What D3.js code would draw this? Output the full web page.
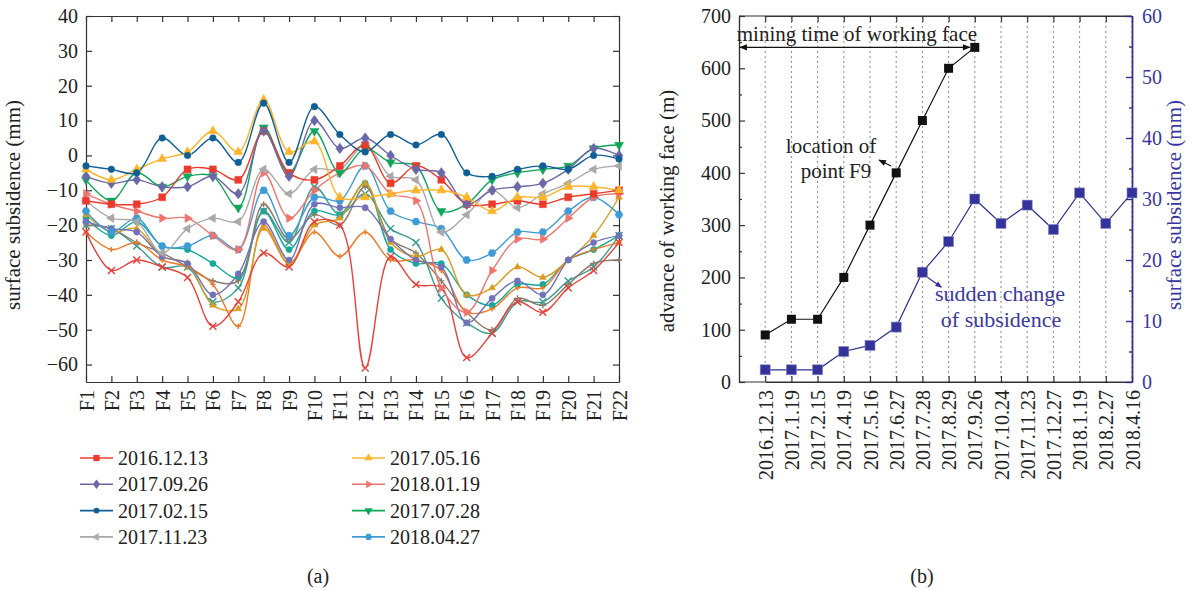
<!DOCTYPE html>
<html><head><meta charset="utf-8">
<script src="https://cdn.jsdelivr.net/npm/d3@7"></script>
<style>
body{margin:0;background:#fff}
text{font-family:"Liberation Serif","Times New Roman",serif;fill:#222}
</style>
</head><body>
<svg id="c" width="1192" height="590"></svg>
<script>
// ---------- data: chart (a) ----------
const fPoints = ["F1","F2","F3","F4","F5","F6","F7","F8","F9","F10","F11","F12","F13","F14","F15","F16","F17","F18","F19","F20","F21","F22"];
const yTicksA = [40,30,20,10,0,-10,-20,-30,-40,-50,-60];

const s20161213 = [-13,-14,-14,-12,-4,-4,-7,7,-5,-7,-3,3,-8,-3,-7,-14,-14,-13,-14,-12,-11,-10];
const s20170926 = [-6,-8,-7,-9,-9,-6,-11,7,-6,10,2,5,0,-4,-5,-14,-10,-9,-8,-4,2,0];
const s20170215 = [-3,-4,-5,5,0,5,-2,15,-2,14,6,1,6,3,6,-5,-6,-4,-3,-4,0,-1];
const s20171123 = [-13,-18,-19,-28,-21,-18,-19,-4,-11,-4,-4,3,-6,-7,-22,-17,-10,-15,-11,-8,-4,-3];
const s20170516 = [-4,-7,-4,-1,1,7,1,16,1,4,-12,-12,-11,-10,-10,-12,-16,-12,-12,-9,-9,-10];
const s20180119 = [-11,-14,-16,-18,-18,-23,-27,-5,-18,-10,-5,-3,-11,-13,-38,-45,-33,-24,-24,-18,-12,-11];
const s20170728 = [-7,-13,-5,-9,-6,-6,-15,8,-5,7,-5,2,-2,-3,-16,-14,-7,-5,-4,-3,2,3];
const s20180427 = [-16,-22,-18,-26,-26,-23,-27,-10,-23,-12,-13,-3,-16,-19,-21,-30,-28,-22,-22,-16,-12,-17];
// series drawn without legend entries
const sTealCircle = [-18,-23,-19,-26,-27,-31,-35,-16,-27,-16,-17,-8,-27,-31,-31,-40,-43,-37,-37,-30,-27,-23];
const sTealX     = [-20,-21,-26,-32,-32,-42,-38,-16,-25,-9,-17,-11,-21,-25,-41,-48,-51,-42,-42,-36,-32,-23];
const sBrown     = [-20,-21,-25,-28,-32,-36,-36,-14,-24,-17,-20,-9,-24,-28,-36,-45,-50,-41,-43,-37,-31,-30];
const sOrange    = [-22,-27,-25,-30,-32,-37,-49,-20,-31,-22,-29,-22,-30,-30,-33,-45,-44,-38,-38,-30,-27,-25];
const sAmber     = [-17,-22,-21,-29,-31,-43,-44,-21,-31,-20,-18,-8,-25,-29,-27,-40,-38,-32,-35,-30,-23,-12];
const sPurpleC   = [-19,-21,-22,-29,-31,-40,-34,-19,-30,-14,-15,-15,-24,-30,-32,-48,-41,-36,-40,-30,-25,-23];
const sRedX      = [-22,-33,-30,-32,-35,-49,-42,-28,-32,-19,-20,-61,-29,-37,-38,-58,-51,-42,-45,-38,-33,-25];

const legendLabels = ["2016.12.13","2017.09.26","2017.02.15","2017.11.23","2017.05.16","2018.01.19","2017.07.28","2018.04.27"];

// ---------- data: chart (b) ----------
const dateLabels = ["2016.12.13","2017.1.19","2017.2.15","2017.4.19","2017.5.16","2017.6.27","2017.7.28","2017.8.29","2017.9.26","2017.10.24","2017.11.23","2017.12.27","2018.1.19","2018.2.27","2018.4.16"];
const advance = [90,120,120,200,300,400,500,600,640];
const subsidence = [2,2,2,5,6,9,18,23,30,26,29,25,31,26,31];
const advTicks = [0,100,200,300,400,500,600,700];
const subTicks = [0,10,20,30,40,50,60];

// ---------- helpers ----------
const svg = d3.select("#c");
function poly(n, rot){
  return {draw(ctx, size){
    const r = Math.sqrt(size / (n*Math.sin(2*Math.PI/n)/2));
    for(let i=0;i<n;i++){
      const a = rot + i*2*Math.PI/n;
      const x = r*Math.cos(a), y = r*Math.sin(a);
      if(i===0) ctx.moveTo(x,y); else ctx.lineTo(x,y);
    }
    ctx.closePath();
  }};
}
const symDiamond = {draw(ctx,size){const r=Math.sqrt(size)/1.2; ctx.moveTo(0,-r);ctx.lineTo(r*0.75,0);ctx.lineTo(0,r);ctx.lineTo(-r*0.75,0);ctx.closePath();}};
const symX = {draw(ctx,size){const r=Math.sqrt(size)/2; ctx.moveTo(-r,-r);ctx.lineTo(r,r);ctx.moveTo(r,-r);ctx.lineTo(-r,r);}};
const symPlus = {draw(ctx,size){const r=Math.sqrt(size)/2; ctx.moveTo(-r,0);ctx.lineTo(r,0);ctx.moveTo(0,-r);ctx.lineTo(0,r);}};

const FS_TICK = 20, FS_TITLE = 21, FS_ANN = 21, FS_LEG = 20;

// series styling (separate from data)
const seriesA = [
  {v:sTealCircle, c:"#14A89B", sym:d3.symbolCircle, s:30, fill:true},
  {v:sTealX,      c:"#3A9C93", sym:symX,  s:49, fill:false},
  {v:sBrown,      c:"#8D7A68", sym:symPlus, s:36, fill:false},
  {v:sOrange,     c:"#EE7A26", sym:symPlus, s:30, fill:false},
  {v:sAmber,      c:"#DB9C1E", sym:poly(3,-Math.PI/2), s:20, fill:true},
  {v:sPurpleC,    c:"#7272BA", sym:d3.symbolCircle, s:30, fill:true},
  {v:sRedX,       c:"#E8403A", sym:symX,  s:49, fill:false},
  {v:s20180427, c:"#3E9BD5", sym:poly(6,0), s:40, fill:true, lab:7},
  {v:s20180119, c:"#F0736E", sym:poly(3,0), s:32, fill:true, lab:5},
  {v:s20171123, c:"#A9A9A9", sym:poly(3,Math.PI), s:32, fill:true, lab:3},
  {v:s20170728, c:"#10A65A", sym:poly(3,Math.PI/2), s:36, fill:true, lab:6},
  {v:s20161213, c:"#EC3B2C", sym:poly(4,Math.PI/4), s:48, fill:true, lab:0},
  {v:s20170926, c:"#6A68A6", sym:symDiamond, s:40, fill:true, lab:1},
  {v:s20170516, c:"#FDB42B", sym:poly(3,-Math.PI/2), s:36, fill:true, lab:4},
  {v:s20170215, c:"#0F5F96", sym:d3.symbolCircle, s:34, fill:true, lab:2}
];

// ---------- chart (a) ----------
const A = {l:86, r:619, t:16, b:382};
const xA = d3.scalePoint().domain(fPoints).range([A.l, A.r]);
const yA = d3.scaleLinear().domain([-65, 40]).range([A.b, A.t]);
const gA = svg.append("g");

const axStyle = g => { g.selectAll("path,line").attr("stroke","#333").attr("stroke-width",1.2); g.selectAll("text").attr("font-size",FS_TICK).attr("fill","#222").style("font-family","'Liberation Serif',serif"); };

gA.append("g").attr("transform",`translate(${A.l},0)`)
  .call(d3.axisLeft(yA).tickValues(yTicksA).tickSize(-6).tickSizeOuter(0).tickPadding(8).tickFormat(d3.format("d")))
  .call(axStyle);
gA.append("g").attr("transform",`translate(${A.r},0)`)
  .call(d3.axisRight(yA).tickValues(yTicksA).tickSize(-6).tickSizeOuter(0).tickFormat(""))
  .call(axStyle);
gA.append("g").attr("transform",`translate(0,${A.t})`)
  .call(d3.axisTop(xA).tickSize(-6).tickSizeOuter(0).tickFormat(""))
  .call(axStyle);
const bx = gA.append("g").attr("transform",`translate(0,${A.b})`)
  .call(d3.axisBottom(xA).tickSize(-6).tickSizeOuter(0))
  .call(axStyle);
bx.selectAll("text").attr("transform","rotate(-90)").attr("text-anchor","end").attr("x",-8).attr("y",0).attr("dy","0.35em");

gA.append("text").attr("transform",`translate(20,${(A.t+A.b)/2 + 6}) rotate(-90)`)
  .attr("text-anchor","middle").attr("font-size",FS_TITLE).text("surface subsidence (mm)");

const lineA = d3.line().x((d,i)=>xA(fPoints[i])).y(d=>yA(d)).curve(d3.curveCatmullRom.alpha(0.5));
const plotA = gA.append("g");
seriesA.forEach(s=>{
  plotA.append("path").attr("d", lineA(s.v)).attr("fill","none").attr("stroke",s.c).attr("stroke-width",1.4);
});
seriesA.forEach(s=>{
  plotA.selectAll(null).data(s.v).enter().append("path")
    .attr("transform",(d,i)=>`translate(${xA(fPoints[i])},${yA(d)})`)
    .attr("d", d3.symbol().type(s.sym).size(s.s)())
    .attr("fill", s.fill ? s.c : "none").attr("stroke", s.c).attr("stroke-width", s.fill?0.5:1.4);
});

// legend
const legItems = seriesA.filter(s=>s.lab!==undefined).sort((a,b)=>a.lab-b.lab);
const leg = svg.append("g");
legItems.forEach((s,k)=>{
  const col = Math.floor(k/4), row = k%4;
  const gx = 80 + col*272, gy = 458 + row*26.3;
  const g = leg.append("g").attr("transform",`translate(${gx},${gy})`);
  g.append("line").attr("x1",0).attr("x2",33).attr("stroke",s.c).attr("stroke-width",1.6);
  g.append("path").attr("transform","translate(16.5,0)").attr("d",d3.symbol().type(s.sym).size(s.s*0.8)()).attr("fill",s.c);
  g.append("text").attr("x",38).attr("dy","0.35em").attr("font-size",FS_LEG).text(legendLabels[s.lab]);
});
svg.append("text").attr("x",318).attr("y",583).attr("text-anchor","middle").attr("font-size",20).text("(a)");

// ---------- chart (b) ----------
const B = {l:739, r:1132, t:16, b:382};
const stepB = (B.r - B.l) / dateLabels.length;
const xB = d3.scalePoint().domain(dateLabels).range([B.l + stepB, B.r]);
const yAdv = d3.scaleLinear().domain([0,700]).range([B.b, B.t]);
const ySub = d3.scaleLinear().domain([0,60]).range([B.b, B.t]);
const blue = "#2E2E8F";
const gB = svg.append("g");

// gridlines
gB.append("g").selectAll("line").data(dateLabels).enter().append("line")
  .attr("x1",d=>xB(d)).attr("x2",d=>xB(d)).attr("y1",B.t).attr("y2",B.b)
  .attr("stroke","#8a8a8a").attr("stroke-width",1).attr("stroke-dasharray","2,3");

gB.append("g").attr("transform",`translate(${B.l},0)`)
  .call(d3.axisLeft(yAdv).tickValues(advTicks).tickSize(-6).tickSizeOuter(0).tickPadding(8))
  .call(axStyle);
gB.append("g").attr("transform",`translate(${B.l},0)`)
  .call(d3.axisLeft(yAdv).tickValues(d3.range(50,700,100)).tickSize(-3).tickSizeOuter(0).tickFormat(""))
  .call(axStyle);
gB.append("g").attr("transform",`translate(0,${B.t})`)
  .call(d3.axisTop(xB).tickSize(-6).tickSizeOuter(0).tickFormat(""))
  .call(axStyle);
gB.append("line").attr("x1",B.l).attr("x2",B.r).attr("y1",B.t).attr("y2",B.t).attr("stroke","#333").attr("stroke-width",1.2);
const bxB = gB.append("g").attr("transform",`translate(0,${B.b})`)
  .call(d3.axisBottom(xB).tickSize(-6).tickSizeOuter(0))
  .call(axStyle);
bxB.append("line").attr("x1",B.l).attr("x2",B.r).attr("stroke","#333").attr("stroke-width",1.2);
bxB.selectAll("text").attr("transform","rotate(-90)").attr("text-anchor","end").attr("x",-8).attr("y",0).attr("dy","0.35em");

const blueAx = g => { g.selectAll("path,line").attr("stroke",blue).attr("stroke-width",1.4); g.selectAll("text").attr("font-size",FS_TICK).attr("fill",blue).style("fill","#3A38A0").style("font-family","'Liberation Serif',serif"); };
gB.append("g").attr("transform",`translate(${B.r},0)`)
  .call(d3.axisRight(ySub).tickValues(subTicks).tickSize(-6).tickSizeOuter(0).tickPadding(10))
  .call(blueAx);
gB.append("g").attr("transform",`translate(${B.r},0)`)
  .call(d3.axisRight(ySub).tickValues(d3.range(5,60,10)).tickSize(-3).tickSizeOuter(0).tickFormat(""))
  .call(blueAx);

gB.append("text").attr("transform",`translate(674,${(B.t+B.b)/2 + 12}) rotate(-90)`)
  .attr("text-anchor","middle").attr("font-size",FS_TITLE).text("advance of working face (m)");
gB.append("text").attr("transform",`translate(1181,${(B.t+B.b)/2 + 6}) rotate(-90)`)
  .attr("text-anchor","middle").attr("font-size",FS_TITLE).style("fill","#3A38A0").text("surface subsidence (mm)");

// lines
const lineAdv = d3.line().x((d,i)=>xB(dateLabels[i])).y(d=>yAdv(d));
const lineSub = d3.line().x((d,i)=>xB(dateLabels[i])).y(d=>ySub(d));
gB.append("path").attr("d",lineAdv(advance)).attr("fill","none").attr("stroke","#111").attr("stroke-width",1.2);
gB.append("path").attr("d",lineSub(subsidence)).attr("fill","none").attr("stroke",blue).attr("stroke-width",1.2);
gB.selectAll(null).data(advance).enter().append("rect")
  .attr("x",(d,i)=>xB(dateLabels[i])-4.5).attr("y",d=>yAdv(d)-4.5).attr("width",9).attr("height",9).attr("fill","#111");
gB.selectAll(null).data(subsidence).enter().append("rect")
  .attr("x",(d,i)=>xB(dateLabels[i])-5).attr("y",d=>ySub(d)-5).attr("width",10).attr("height",10)
  .attr("fill","#33339A").attr("stroke","#8888c8").attr("stroke-width",0.6);

// annotations
const defs = svg.append("defs");
defs.append("marker").attr("id","ahB").attr("viewBox","0 0 10 10").attr("refX",9).attr("refY",5)
  .attr("markerWidth",9).attr("markerHeight",7).attr("orient","auto-start-reverse")
  .append("path").attr("d","M0,1 L10,5 L0,9 Z").attr("fill","#111");
defs.append("marker").attr("id","ahBlue").attr("viewBox","0 0 10 10").attr("refX",9).attr("refY",5)
  .attr("markerWidth",8).attr("markerHeight",6).attr("orient","auto")
  .append("path").attr("d","M0,1 L10,5 L0,9 Z").attr("fill",blue);

const lastMine = dateLabels[advance.length-1];
const yMine = yAdv(advance[advance.length-1]);
gB.append("line").attr("x1",B.l+1).attr("x2",xB(lastMine)-5).attr("y1",yMine).attr("y2",yMine)
  .attr("stroke","#111").attr("stroke-width",1.1)
  .attr("marker-start","url(#ahB)").attr("marker-end","url(#ahB)");
gB.append("text").attr("x",(B.l+xB(lastMine))/2).attr("y",yMine-6).attr("text-anchor","middle").attr("font-size",FS_ANN).text("mining time of working face");

gB.append("text").attr("x",831).attr("y",153).attr("text-anchor","middle").attr("font-size",FS_ANN).text("location of");
gB.append("text").attr("x",836).attr("y",178).attr("text-anchor","middle").attr("font-size",FS_ANN).text("point F9");
gB.append("line").attr("x1",891).attr("y1",166).attr("x2",879).attr("y2",160).attr("stroke","#111").attr("stroke-width",1.1).attr("marker-end","url(#ahB)");

const sc = dateLabels[6];
gB.append("line").attr("x1",xB(sc)+5).attr("y1",ySub(subsidence[6])+5).attr("x2",xB(sc)+19).attr("y2",ySub(subsidence[6])+15)
  .attr("stroke",blue).attr("stroke-width",1.1).attr("marker-end","url(#ahBlue)");
gB.append("text").attr("x",1000).attr("y",301).attr("text-anchor","middle").attr("font-size",FS_ANN+1).style("fill","#3A38A0").text("sudden change");
gB.append("text").attr("x",1001).attr("y",327).attr("text-anchor","middle").attr("font-size",FS_ANN+1).style("fill","#3A38A0").text("of subsidence");

svg.append("text").attr("x",922).attr("y",583).attr("text-anchor","middle").attr("font-size",20).text("(b)");
</script>
</body></html>
